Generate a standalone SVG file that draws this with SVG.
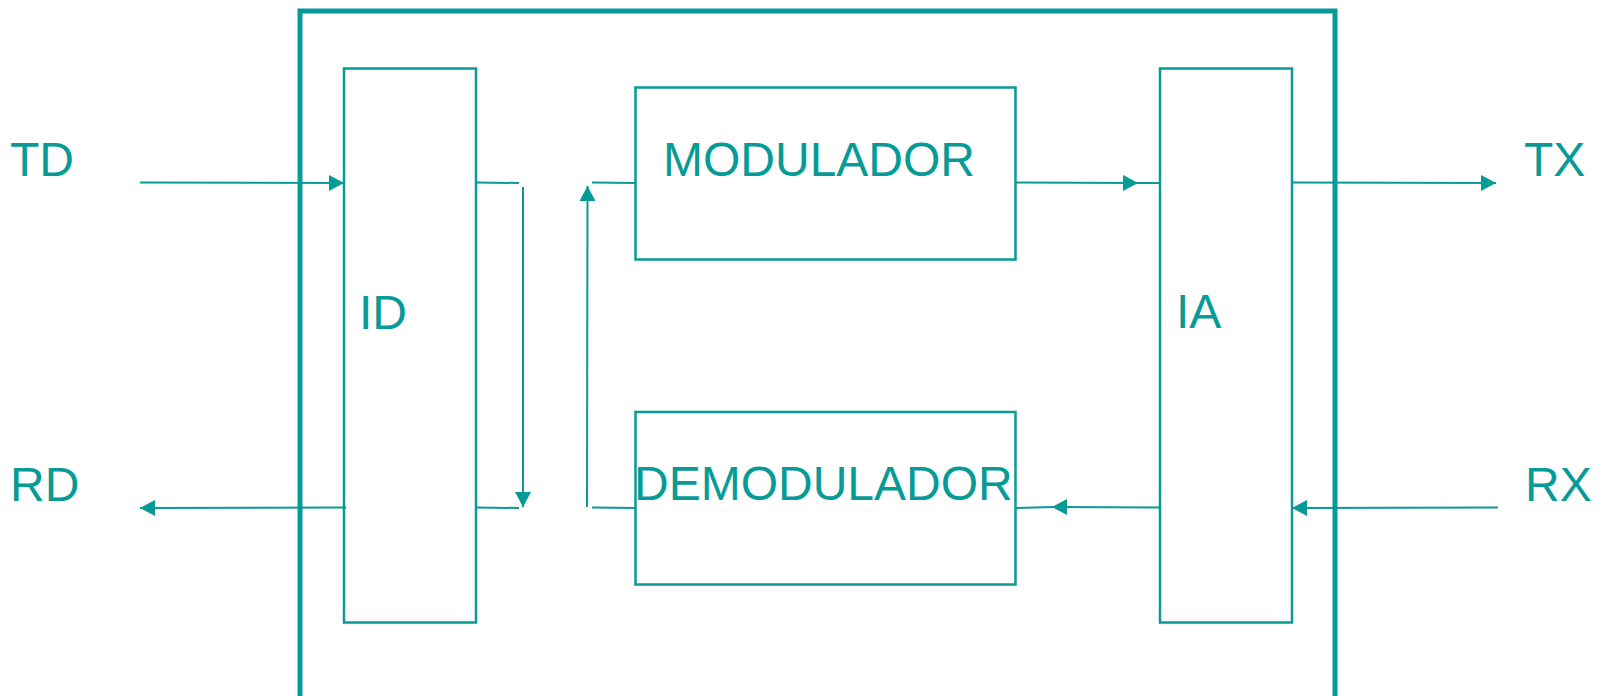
<svg xmlns="http://www.w3.org/2000/svg" width="1604" height="696" viewBox="0 0 1604 696">
<style>
.box{fill:none;stroke:#079b97;stroke-width:2.5}
.frame{fill:none;stroke:#079b97;stroke-width:5}
.ln{fill:none;stroke:#079b97;stroke-width:2}
.t{font-family:"Liberation Sans",Arial,sans-serif;font-size:48px;fill:#079b97}
</style>
<defs>
<marker id="ah" viewBox="0 0 15 16" refX="15" refY="8" markerWidth="15" markerHeight="16" markerUnits="userSpaceOnUse" orient="auto">
<path d="M0,0 L15,8 L0,16 Z" fill="#079b97"/>
</marker>
</defs>
<g id="frame"><path class="frame" d="M300,700 V11 H1335 V700"/></g>
<g id="ID"><rect class="box" x="344" y="68.5" width="132" height="554"/><text class="t" x="359" y="329">ID</text></g>
<g id="MODULADOR"><rect class="box" x="635.5" y="87.5" width="380" height="172"/><text class="t" x="663" y="176">MODULADOR</text></g>
<g id="DEMODULADOR"><rect class="box" x="635.5" y="412" width="380" height="172.5"/><text class="t" x="634" y="500">DEMODULADOR</text></g>
<g id="IA"><rect class="box" x="1160" y="68.5" width="132" height="554"/><text class="t" x="1176" y="328">IA</text></g>
<g id="TD"><text class="t" x="10" y="176">TD</text></g>
<g id="RD"><text class="t" x="10" y="501">RD</text></g>
<g id="TX"><text class="t" x="1524" y="176">TX</text></g>
<g id="RX"><text class="t" x="1525" y="501">RX</text></g>
<g id="connectors">
<line class="ln" x1="140" y1="182.5" x2="344" y2="183" marker-end="url(#ah)"/>
<line class="ln" x1="476" y1="182.5" x2="519" y2="183"/>
<line class="ln" x1="523" y1="187" x2="523" y2="507" marker-end="url(#ah)"/>
<line class="ln" x1="476" y1="507.5" x2="519" y2="508"/>
<line class="ln" x1="587" y1="507" x2="587.5" y2="186" marker-end="url(#ah)"/>
<line class="ln" x1="592" y1="182.5" x2="635.5" y2="183"/>
<line class="ln" x1="592" y1="507.5" x2="635.5" y2="508"/>
<line class="ln" x1="346" y1="507.5" x2="140" y2="508" marker-end="url(#ah)"/>
<line class="ln" x1="1015.5" y1="182.5" x2="1138" y2="183" marker-end="url(#ah)"/>
<line class="ln" x1="1136" y1="183" x2="1160" y2="183"/>
<line class="ln" x1="1292" y1="182.5" x2="1496" y2="183" marker-end="url(#ah)"/>
<line class="ln" x1="1160" y1="507.5" x2="1052" y2="507" marker-end="url(#ah)"/>
<line class="ln" x1="1054" y1="507" x2="1015.5" y2="508"/>
<line class="ln" x1="1498" y1="507.5" x2="1292" y2="508" marker-end="url(#ah)"/>
</g>
</svg>
